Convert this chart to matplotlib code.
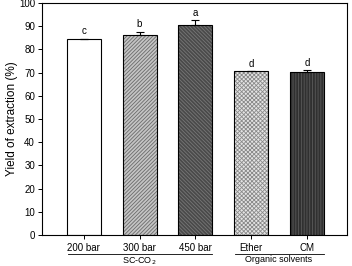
import matplotlib
matplotlib.use("Agg")
import matplotlib.pyplot as plt
import matplotlib.transforms as mtransforms

plt.rcParams['font.family'] = ['Liberation Sans', 'DejaVu Sans']
plt.rcParams['hatch.linewidth'] = 0.6

categories = ["200 bar", "300 bar", "450 bar", "Ether", "CM"]
values = [84.3, 86.0, 90.4, 70.5, 70.4]
errors = [0.3, 1.7, 2.1, 0.2, 0.7]
letters = ["c", "b", "a", "d", "d"]
groups = ["SC-CO$_2$", "Organic solvents"]
group_members = [[0, 1, 2], [3, 4]]

face_colors = ["white", "#c4c4c4", "#4a4a4a", "#e4e4e4", "#303030"]
hatch_colors = ["white", "#6a6a6a", "#777777", "#8a8a8a", "#5a5a5a"]
hatches = [None, "/////////", "\\\\\\\\\\\\\\\\\\", "xxxxxxxx", "||||||"]

fig = plt.figure(figsize=(3.52, 2.66), dpi=100)
ax = fig.add_axes([42/352, 1-235/266, (347-42)/352, (235-3)/266])

x = list(range(len(categories)))
w = 0.61
ax.bar(x, values, width=w, color=face_colors, edgecolor="none", zorder=2)
for i in x:
    if hatches[i]:
        ax.bar([i], [values[i]], width=w, facecolor="none", edgecolor=hatch_colors[i],
               hatch=hatches[i], linewidth=0, zorder=3)
ax.bar(x, values, width=w, facecolor="none", edgecolor="black", linewidth=0.8, zorder=4)
ax.errorbar(x, values, yerr=[[0]*len(x), errors], fmt="none", ecolor="black",
            elinewidth=0.8, capsize=3, capthick=0.8, zorder=5)
for i in x:
    ax.text(i, values[i] + errors[i] + 1.0, letters[i], ha="center", va="bottom", fontsize=7)

ax.set_xlim(-0.75, 4.72)
ax.set_ylim(0, 100)
ax.set_yticks(range(0, 101, 10))
ax.set_xticks(x)
ax.set_xticklabels(categories)
ax.tick_params(axis="both", direction="out", length=3, width=0.7, labelsize=7, pad=2)
ax.tick_params(axis="x", pad=3)
for s in ax.spines.values():
    s.set_linewidth(0.8)
ax.set_ylabel("Yield of extraction (%)", fontsize=8.5, labelpad=1)

trans = mtransforms.blended_transform_factory(ax.transData, fig.transFigure)
y_line = 1 - 254/266
y_text = 1 - 255.5/266
for g, members in zip(groups, group_members):
    x0 = members[0] - 0.29
    x1 = members[-1] + 0.3
    ax.plot([x0, x1], [y_line, y_line], transform=trans, color="black",
            linewidth=0.6, clip_on=False)
    ax.text((members[0] + members[-1]) / 2, y_text, g, transform=trans,
            ha="center", va="top", fontsize=6.5)

fig.savefig("out.png", dpi=100)
